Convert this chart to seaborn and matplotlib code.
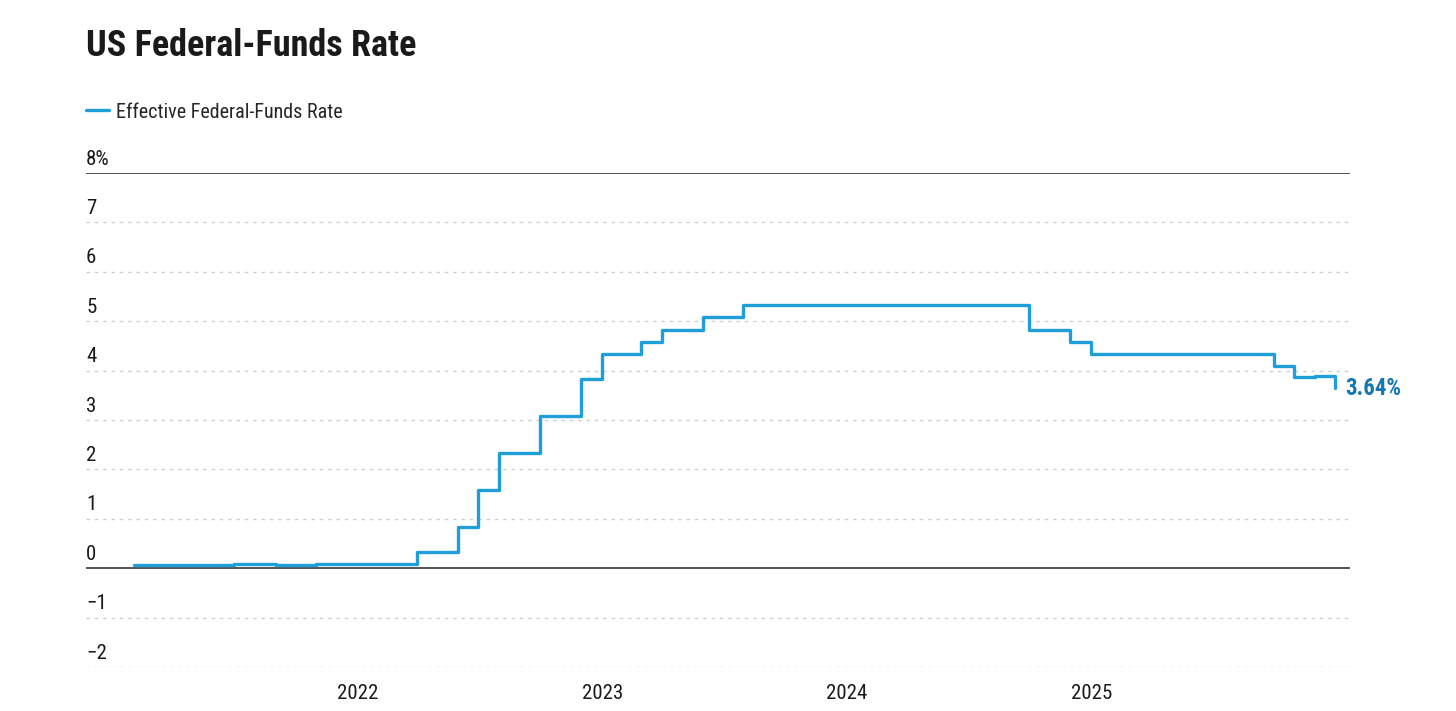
import matplotlib
matplotlib.use("Agg")
import matplotlib.pyplot as plt
import seaborn as sns
import pandas as pd

# month-end effective fed funds rate, Jan 2021 .. Dec 2025
rate_2021 = [0.07, 0.07, 0.06, 0.06, 0.06, 0.09, 0.09, 0.07, 0.07, 0.08, 0.08, 0.08]
rate_2022 = [0.09, 0.09, 0.33, 0.33, 0.83, 1.58, 2.33, 2.33, 3.08, 3.08, 3.83, 4.33]
rate_2023 = [4.33, 4.58, 4.83, 4.83, 5.08, 5.08, 5.33, 5.33, 5.33, 5.33, 5.33, 5.33]
rate_2024 = [5.33, 5.33, 5.33, 5.33, 5.33, 5.33, 5.33, 5.33, 4.83, 4.83, 4.58, 4.33]
rate_2025 = [4.33, 4.33, 4.33, 4.33, 4.33, 4.33, 4.33, 4.33, 4.09, 3.87, 3.89, 3.64]

year_ticks = ["2022", "2023", "2024", "2025"]
y_ticks = [-2, -1, 0, 1, 2, 3, 4, 5, 6, 7, 8]
y_labels = ["\u22122", "\u22121", "0", "1", "2", "3", "4", "5", "6", "7", "8%"]

dates = pd.date_range("2021-01-31", "2025-12-31", freq="ME")
df = pd.DataFrame({
    "date": dates,
    "rate": rate_2021 + rate_2022 + rate_2023 + rate_2024 + rate_2025,
})

sns.set_style("white")
plt.rcParams["font.family"] = ["Roboto Condensed", "DejaVu Sans"]

LINE = "#1f9fd9"
LABEL = "#1577b3"
TEXT = "#1a1a1a"

fig = plt.figure(figsize=(14.56, 7.11), dpi=100)
ax = fig.add_axes([0.0591, 0.0619, 0.9272 - 0.0591, 0.7567 - 0.0619])

# gridlines
for v in y_ticks:
    if v in (0, 8):
        ax.axhline(v, color="#555555", lw=1.4, zorder=1)
    else:
        ax.axhline(v, color="#cfcfcf", lw=1.0, ls=(0, (2.5, 3.5)), zorder=1)

sns.lineplot(data=df, x="date", y="rate", drawstyle="steps-post", color=LINE,
             lw=2.4, ax=ax, label="Effective Federal-Funds Rate", zorder=3)

ax.set_ylim(-2, 8)
ax.set_xlim(pd.Timestamp("2020-11-21"), pd.Timestamp("2026-01-22"))
ax.set_yticks([])
ax.set_xticks([pd.Timestamp(f"{y}-01-01") for y in year_ticks])
ax.set_xticklabels(year_ticks)
ax.tick_params(axis="x", length=0, pad=12, labelsize=15, colors=TEXT)
ax.set_xlabel("")
ax.set_ylabel("")
for s in ax.spines.values():
    s.set_visible(False)

# y labels sit above their gridlines
for v, lab in zip(y_ticks, y_labels):
    ax.annotate(lab, xy=(0, v), xycoords=("axes fraction", "data"),
                xytext=(0, 6), textcoords="offset points",
                ha="left", va="baseline", fontsize=15, color=TEXT)

# end label
last = df.iloc[-1]
ax.annotate(f"{last['rate']:.2f}%", xy=(last["date"], last["rate"]),
            xytext=(7, 0), textcoords="offset points", ha="left", va="center",
            fontsize=16.5, fontweight="bold", color=LABEL, annotation_clip=False)

# legend and title
ax.legend(loc="center left", bbox_to_anchor=(0.0591, 1 - 112 / 711),
          bbox_transform=fig.transFigure, frameon=False, fontsize=14.5,
          handlelength=1.15, handletextpad=0.35, borderpad=0, borderaxespad=0)
fig.text(0.0591, 1 - 46 / 711, "US Federal-Funds Rate", ha="left", va="center",
         fontsize=26, fontweight="bold", color=TEXT)

plt.savefig("out.png", dpi=100)
plt.close()
